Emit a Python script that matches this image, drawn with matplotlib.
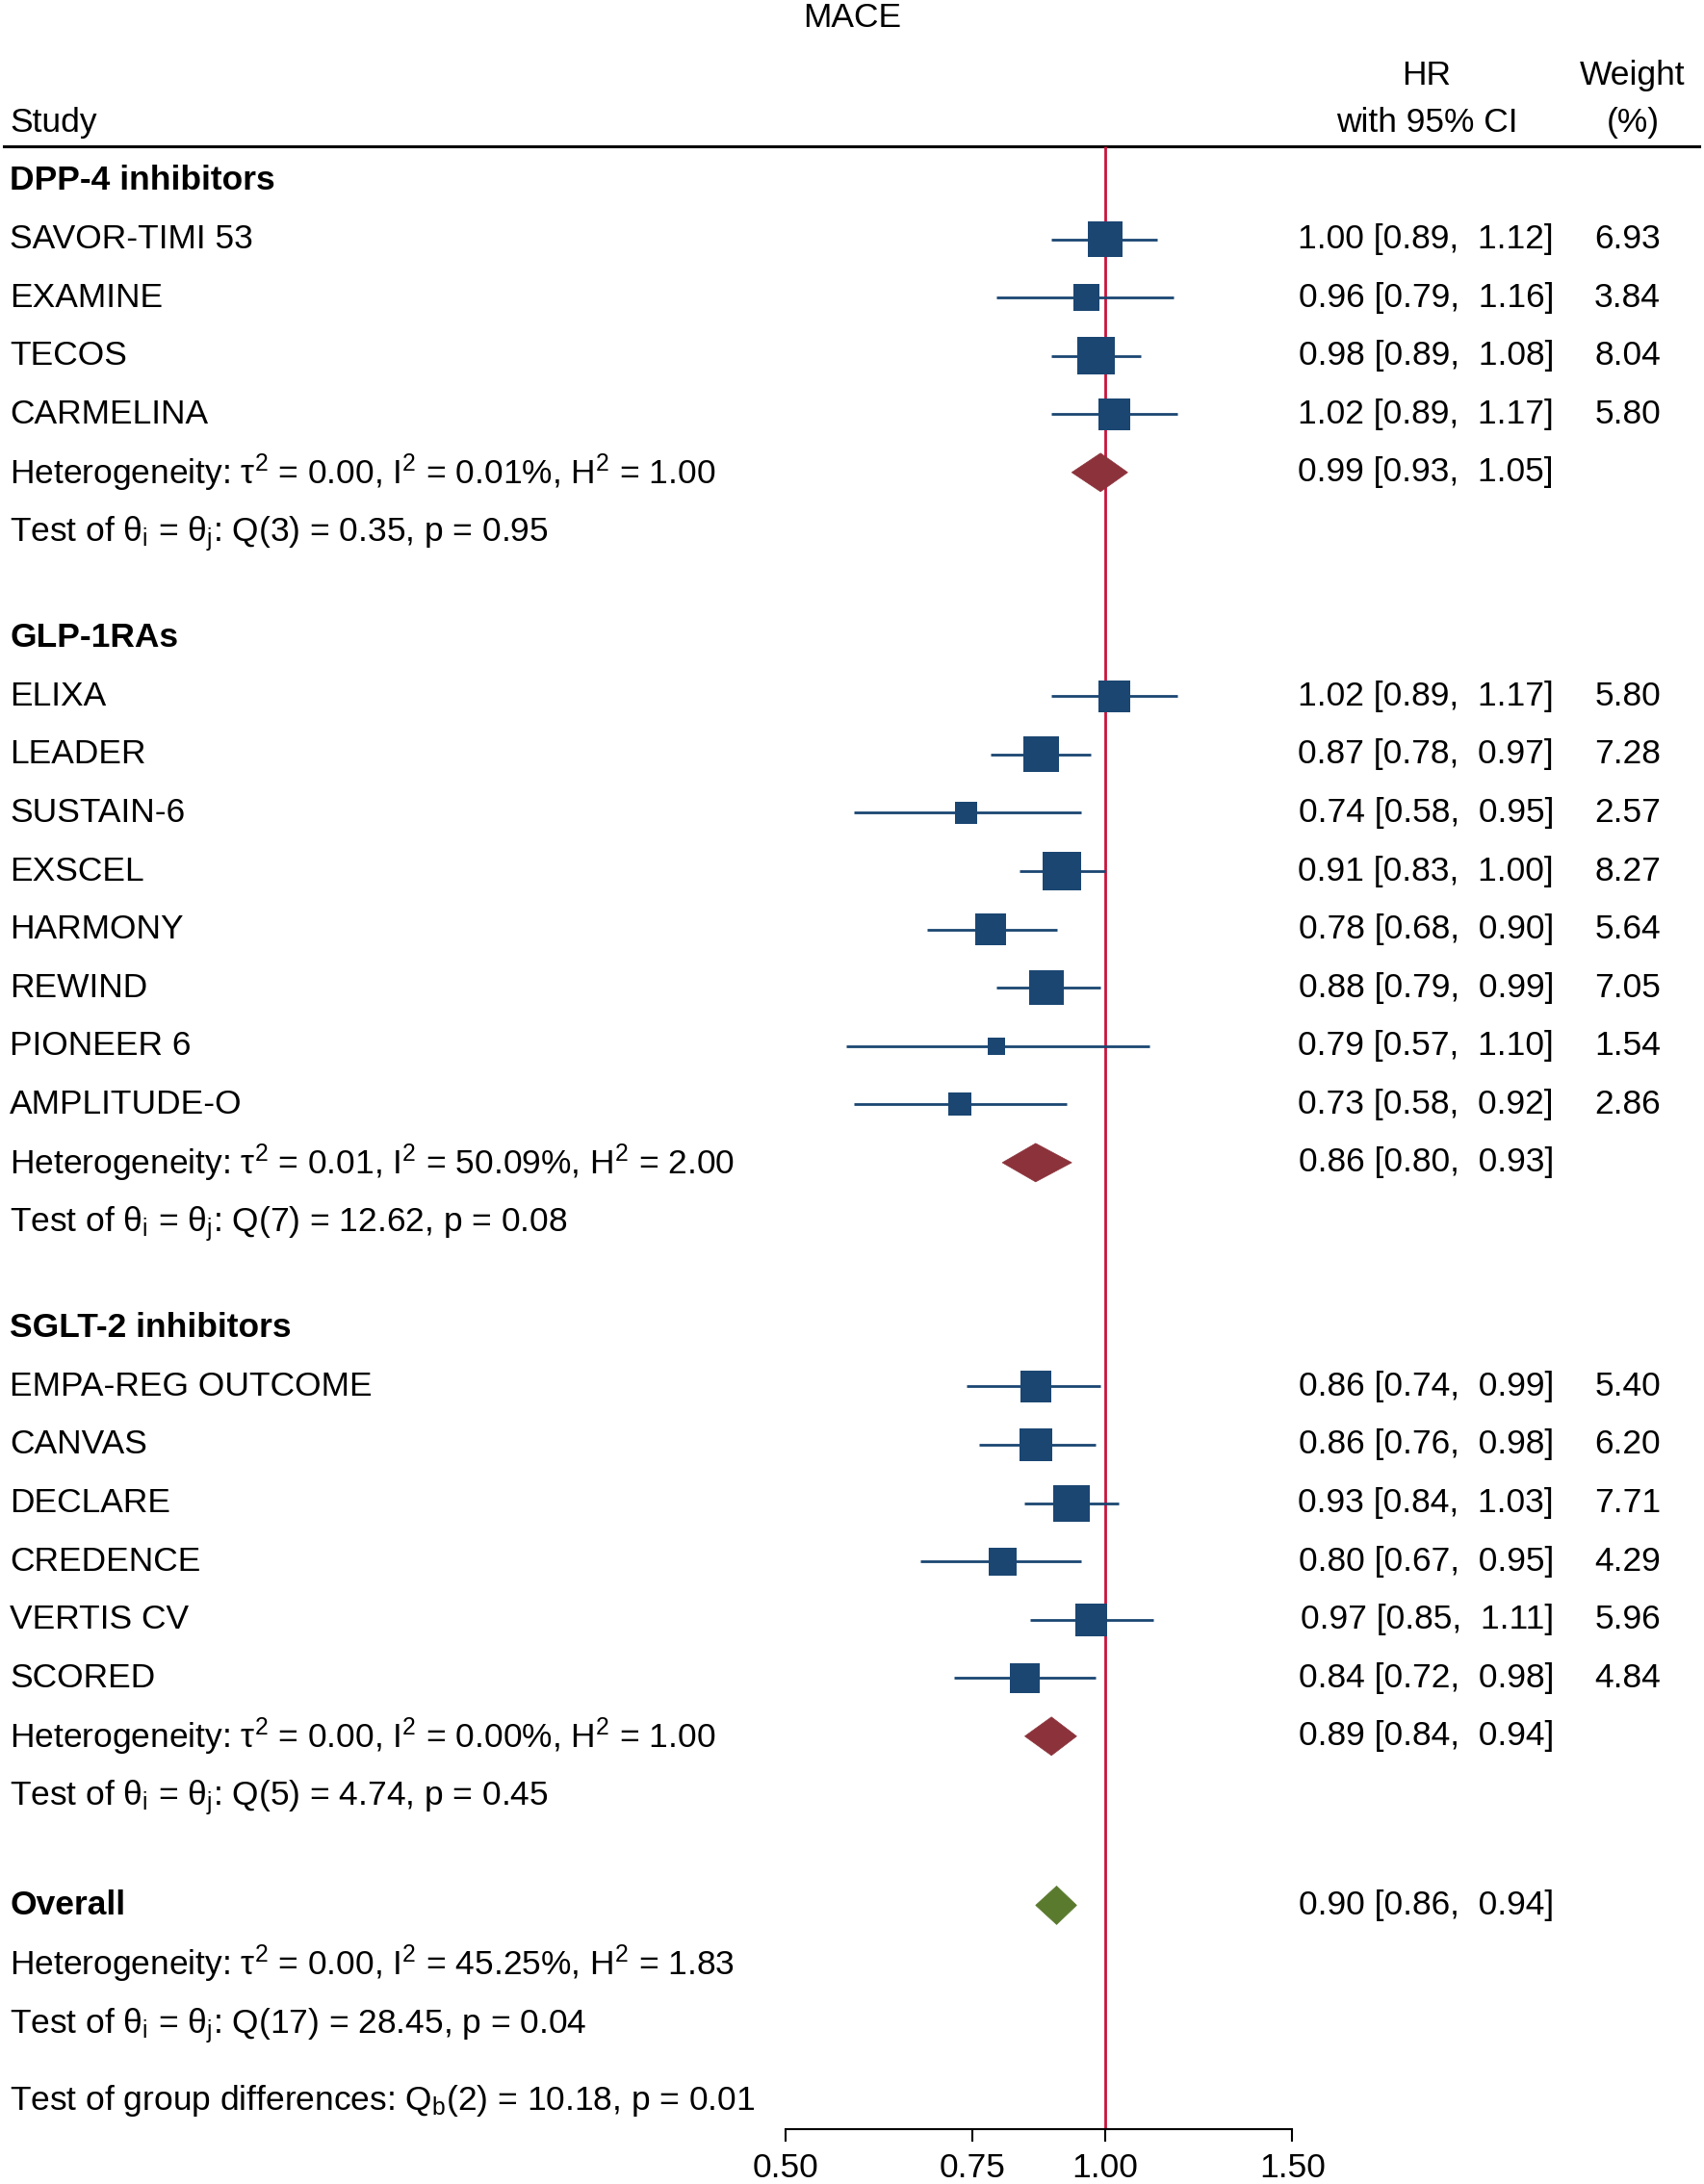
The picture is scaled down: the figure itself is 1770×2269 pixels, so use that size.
import numpy as np
import matplotlib
matplotlib.use("Agg")
import matplotlib.pyplot as plt
from matplotlib.patches import Polygon

plt.rcParams['font.family'] = ['Liberation Sans', 'DejaVu Sans']
plt.rcParams['mathtext.fontset'] = 'custom'
plt.rcParams['mathtext.rm'] = 'Liberation Sans'
plt.rcParams['mathtext.it'] = 'Liberation Sans:italic'
plt.rcParams['mathtext.bf'] = 'Liberation Sans:bold'

# ---- data ----
groups = ['DPP-4 inhibitors', 'GLP-1RAs', 'SGLT-2 inhibitors']

studies = [
    ['SAVOR-TIMI 53', 'EXAMINE', 'TECOS', 'CARMELINA'],
    ['ELIXA', 'LEADER', 'SUSTAIN-6', 'EXSCEL', 'HARMONY', 'REWIND', 'PIONEER 6', 'AMPLITUDE-O'],
    ['EMPA-REG OUTCOME', 'CANVAS', 'DECLARE', 'CREDENCE', 'VERTIS CV', 'SCORED'],
]
hr = [
    [1.00, 0.96, 0.98, 1.02],
    [1.02, 0.87, 0.74, 0.91, 0.78, 0.88, 0.79, 0.73],
    [0.86, 0.86, 0.93, 0.80, 0.97, 0.84],
]
lo = [
    [0.89, 0.79, 0.89, 0.89],
    [0.89, 0.78, 0.58, 0.83, 0.68, 0.79, 0.57, 0.58],
    [0.74, 0.76, 0.84, 0.67, 0.85, 0.72],
]
hi = [
    [1.12, 1.16, 1.08, 1.17],
    [1.17, 0.97, 0.95, 1.00, 0.90, 0.99, 1.10, 0.92],
    [0.99, 0.98, 1.03, 0.95, 1.11, 0.98],
]
weight = [
    [6.93, 3.84, 8.04, 5.80],
    [5.80, 7.28, 2.57, 8.27, 5.64, 7.05, 1.54, 2.86],
    [5.40, 6.20, 7.71, 4.29, 5.96, 4.84],
]

sub_hr = [0.99, 0.86, 0.89]
sub_lo = [0.93, 0.80, 0.84]
sub_hi = [1.05, 0.93, 0.94]
sub_het = [
    r'Heterogeneity: τ$^{2}$ = 0.00, I$^{2}$ = 0.01%, H$^{2}$ = 1.00',
    r'Heterogeneity: τ$^{2}$ = 0.01, I$^{2}$ = 50.09%, H$^{2}$ = 2.00',
    r'Heterogeneity: τ$^{2}$ = 0.00, I$^{2}$ = 0.00%, H$^{2}$ = 1.00',
]
sub_test = [
    r'Test of θ$_\mathrm{i}$ = θ$_\mathrm{j}$: Q(3) = 0.35, p = 0.95',
    r'Test of θ$_\mathrm{i}$ = θ$_\mathrm{j}$: Q(7) = 12.62, p = 0.08',
    r'Test of θ$_\mathrm{i}$ = θ$_\mathrm{j}$: Q(5) = 4.74, p = 0.45',
]

overall_hr, overall_lo, overall_hi = 0.90, 0.86, 0.94
overall_het = r'Heterogeneity: τ$^{2}$ = 0.00, I$^{2}$ = 45.25%, H$^{2}$ = 1.83'
overall_test = r'Test of θ$_\mathrm{i}$ = θ$_\mathrm{j}$: Q(17) = 28.45, p = 0.04'
group_test = r'Test of group differences: Q$_\mathrm{b}$(2) = 10.18, p = 0.01'

xticks = [0.5, 0.75, 1.0, 1.5]
xticklabels = ['0.50', '0.75', '1.00', '1.50']

# ---- style ----
FS = 25.5
navy = '#1b4672'
dred = '#8c323b'
green = '#5a7a2e'
refred = '#c8143c'
SUB_SHIFT = 0.06  # mathtext subscripts push the bbox down, nudge back

W, H = 1770, 2269
fig = plt.figure(figsize=(W / 100, H / 100), dpi=100)
ax_bottom = 2212
ax = fig.add_axes([0, 1 - ax_bottom / H, 1, ax_bottom / H])
ax.set_xscale('log')
scale = 479.0  # px per ln unit
x_one = 1148.0
ax.set_xlim(np.exp(-x_one / scale), np.exp((W - x_one) / scale))
ax.set_ylim(33.42, -3.104)

tr = ax.get_yaxis_transform()
X_STUDY = 10 / W
X_HR = 1614 / W
X_HRHEAD = 1482 / W
X_W = 1725 / W
X_WHEAD = 1696 / W


def fmt_ci(h, l, u):
    return f'{h:.2f} [{l:.2f},  {u:.2f}]'


def diamond(y, h, l, u, color):
    d = 0.33
    pts = [(l, y), (h, y - d), (u, y), (h, y + d)]
    ax.add_patch(Polygon(pts, closed=True, facecolor=color, edgecolor=color, lw=0.5, zorder=4))


# header
ax.text(0.5, -2.8, 'MACE', transform=tr, ha='center', va='center', fontsize=FS)
ax.text(X_HRHEAD, -1.81, 'HR', transform=tr, ha='center', va='center', fontsize=FS)
ax.text(X_HRHEAD, -1.0, 'with 95% CI', transform=tr, ha='center', va='center', fontsize=FS)
ax.text(X_WHEAD, -1.81, 'Weight', transform=tr, ha='center', va='center', fontsize=FS)
ax.text(X_WHEAD, -1.0, '(%)', transform=tr, ha='center', va='center', fontsize=FS)
ax.text(X_STUDY, -1.0, 'Study', transform=tr, ha='left', va='center', fontsize=FS)
ax.plot([0.002, 0.997], [-0.6, -0.6], transform=tr, color='black', lw=2.2, clip_on=False)

y = 0.0
for g in range(len(groups)):
    ax.text(X_STUDY, y, groups[g], transform=tr, ha='left', va='center',
            fontsize=FS, fontweight='bold')
    y += 1
    for i in range(len(studies[g])):
        ax.text(X_STUDY, y, studies[g][i], transform=tr, ha='left', va='center', fontsize=FS)
        ax.plot([lo[g][i], hi[g][i]], [y, y], color=navy, lw=2.0, solid_capstyle='butt', zorder=3)
        side_px = 13.0 * np.sqrt(weight[g][i]) + 2
        ax.scatter([hr[g][i]], [y], marker='s', s=(side_px / 100 * 72) ** 2,
                   color=navy, edgecolors='none', zorder=4)
        ax.text(X_HR, y, fmt_ci(hr[g][i], lo[g][i], hi[g][i]), transform=tr,
                ha='right', va='center', fontsize=FS)
        ax.text(X_W, y, f'{weight[g][i]:.2f}', transform=tr, ha='right', va='center', fontsize=FS)
        y += 1
    ax.text(X_STUDY, y, sub_het[g], transform=tr, ha='left', va='center', fontsize=FS)
    diamond(y, sub_hr[g], sub_lo[g], sub_hi[g], dred)
    ax.text(X_HR, y, fmt_ci(sub_hr[g], sub_lo[g], sub_hi[g]), transform=tr,
            ha='right', va='center', fontsize=FS)
    y += 1
    ax.text(X_STUDY, y + SUB_SHIFT, sub_test[g], transform=tr, ha='left', va='center', fontsize=FS)
    y += 1.84

y += 0.06
ax.text(X_STUDY, y, 'Overall', transform=tr, ha='left', va='center', fontsize=FS, fontweight='bold')
diamond(y, overall_hr, overall_lo, overall_hi, green)
ax.text(X_HR, y, fmt_ci(overall_hr, overall_lo, overall_hi), transform=tr,
        ha='right', va='center', fontsize=FS)
y += 1
ax.text(X_STUDY, y, overall_het, transform=tr, ha='left', va='center', fontsize=FS)
y += 1
ax.text(X_STUDY, y + SUB_SHIFT, overall_test, transform=tr, ha='left', va='center', fontsize=FS)
y += 1.29
ax.text(X_STUDY, y + SUB_SHIFT, group_test, transform=tr, ha='left', va='center', fontsize=FS)

# reference line
ax.vlines(1.0, -0.6, 33.42, color=refred, lw=2.0, zorder=2, clip_on=False)

# axis
for s in ['top', 'left', 'right']:
    ax.spines[s].set_visible(False)
ax.spines['bottom'].set_bounds(0.5, 1.5)
ax.spines['bottom'].set_linewidth(1.5)
ax.set_xticks(xticks)
ax.set_xticklabels(xticklabels, fontsize=FS)
ax.xaxis.set_minor_locator(matplotlib.ticker.NullLocator())
ax.tick_params(axis='x', direction='out', length=9, width=1.5, pad=8)
ax.set_yticks([])
ax.patch.set_alpha(0)

fig.savefig('out.png', dpi=100)
